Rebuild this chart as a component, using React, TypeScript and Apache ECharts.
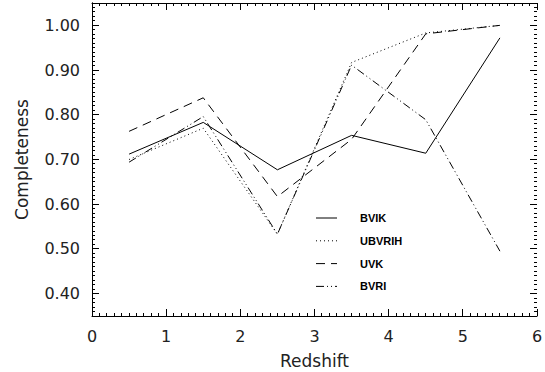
import React, { useEffect, useRef } from "react";
import * as echarts from "echarts";

// Redshift bin centres
const redshift = [0.5, 1.5, 2.5, 3.5, 4.5, 5.5];

// Completeness per filter set
const bvik = [0.712, 0.783, 0.677, 0.754, 0.714, 0.972];
const ubvrih = [0.700, 0.770, 0.533, 0.917, 0.983, 1.0];
const uvk = [0.763, 0.838, 0.617, 0.745, 0.981, 1.0];
const bvri = [0.694, 0.796, 0.533, 0.911, 0.789, 0.495];

const seriesNames = ["BVIK", "UBVRIH", "UVK", "BVRI"];
const seriesValues = [bvik, ubvrih, uvk, bvri];

const yMajorTicks = [0.4, 0.5, 0.6, 0.7, 0.8, 0.9, 1.0];
const xMajorTicks = [0, 1, 2, 3, 4, 5, 6];

const dashStyles: (string | number[])[] = ["solid", [1, 3], [9, 6], [8, 3, 1, 3, 1, 3]];

const FONT = "DejaVu Sans";
const INK = "#000";
const X_MIN = 0;
const X_MAX = 6;
const Y_MIN = 0.35;
const Y_MAX = 1.05;
const MAJOR_LEN = 7;
const MINOR_LEN = 3;

export default function App() {
  const ref = useRef<HTMLDivElement>(null);

  useEffect(() => {
    if (!ref.current) return;
    const chart = echarts.init(ref.current, null, { renderer: "svg" });

    const frameLine = { show: true, lineStyle: { color: INK, width: 1 } };

    const xDef = (position: "bottom" | "top", labels: boolean) => ({
      type: "value",
      position,
      min: X_MIN,
      max: X_MAX,
      interval: 1,
      name: labels ? "Redshift" : "",
      nameLocation: "middle",
      nameGap: 36,
      nameTextStyle: { fontFamily: FONT, fontSize: 17, color: "#222" },
      axisLine: frameLine,
      axisTick: { show: false },
      axisLabel: {
        show: labels,
        customValues: xMajorTicks,
        margin: 12,
        fontFamily: FONT,
        fontSize: 16,
        color: "#222",
      },
      splitLine: { show: false },
    });

    const yDef = (position: "left" | "right", labels: boolean) => ({
      type: "value",
      position,
      min: Y_MIN,
      max: Y_MAX,
      name: labels ? "Completeness" : "",
      nameLocation: "middle",
      nameGap: 62,
      nameTextStyle: { fontFamily: FONT, fontSize: 17, color: "#222" },
      axisLine: frameLine,
      axisTick: { show: false },
      axisLabel: {
        show: labels,
        customValues: yMajorTicks,
        margin: 12,
        fontFamily: FONT,
        fontSize: 16,
        color: "#222",
        formatter: (v: number) => v.toFixed(2),
      },
      splitLine: { show: false },
    });

    // Legend: short line samples with their labels
    const legendLeft = 316;
    const legendTop = 218;
    const legendStep = 22.8;
    const legendGraphics: any[] = [];
    seriesNames.forEach((name, i) => {
      const y = legendTop + i * legendStep;
      const dash = dashStyles[i];
      legendGraphics.push({
        type: "line",
        shape: { x1: legendLeft, y1: y, x2: legendLeft + 21, y2: y },
        style: { stroke: INK, lineWidth: 1, lineDash: dash === "solid" ? null : dash },
      });
      legendGraphics.push({
        type: "text",
        x: 360,
        y,
        style: {
          text: name,
          fill: INK,
          font: `bold 11px "Liberation Sans"`,
          textVerticalAlign: "middle",
        },
      });
    });

    chart.setOption({
      animation: false,
      grid: { left: 92, right: 8, top: 3, bottom: 56, outerBoundsMode: "none", containLabel: false },
      xAxis: [xDef("bottom", true), xDef("top", false)],
      yAxis: [yDef("left", true), yDef("right", false)],
      series: seriesNames.map((name, i) => ({
        name,
        type: "line",
        xAxisIndex: 0,
        yAxisIndex: 0,
        symbol: "none",
        data: redshift.map((x, j) => [x, seriesValues[i][j]]),
        lineStyle: { color: INK, width: 1, type: dashStyles[i] },
      })),
      graphic: legendGraphics,
    });

    // Inward tick marks on all four sides as thin filled bars, placed through the axis scales
    const finder = { xAxisIndex: 0, yAxisIndex: 0 };
    const toPx = (x: number, y: number) => chart.convertToPixel(finder, [x, y]) as number[];
    const px = (n: number) => Math.round(n - 0.5);
    const tickFill = { fill: INK };
    const tickGraphics: any[] = [];

    for (let i = 0; i <= 60; i++) {
      const v = X_MIN + i / 10;
      const len = i % 10 === 0 ? MAJOR_LEN : MINOR_LEN;
      const lo = toPx(v, Y_MIN);
      const hi = toPx(v, Y_MAX);
      const x = px(lo[0]);
      tickGraphics.push({ type: "rect", silent: true, z: 10, shape: { x, y: Math.round(lo[1]) - len, width: 1, height: len }, style: tickFill });
      tickGraphics.push({ type: "rect", silent: true, z: 10, shape: { x, y: Math.round(hi[1]), width: 1, height: len }, style: tickFill });
    }
    for (let i = 0; i <= 70; i++) {
      const v = Math.round((Y_MIN + i / 100) * 100) / 100;
      const major = yMajorTicks.some((m) => Math.abs(m - v) < 1e-6);
      const len = major ? MAJOR_LEN : MINOR_LEN;
      const l = toPx(X_MIN, v);
      const r = toPx(X_MAX, v);
      const y = px(l[1]);
      tickGraphics.push({ type: "rect", silent: true, z: 10, shape: { x: Math.round(l[0]), y, width: len, height: 1 }, style: tickFill });
      tickGraphics.push({ type: "rect", silent: true, z: 10, shape: { x: Math.round(r[0]) - len, y, width: len, height: 1 }, style: tickFill });
    }

    chart.setOption({ graphic: [...legendGraphics, ...tickGraphics] });

    return () => chart.dispose();
  }, []);

  return <div ref={ref} style={{ width: 545, height: 372, position: "absolute", left: 0, top: 0 }} />;
}
